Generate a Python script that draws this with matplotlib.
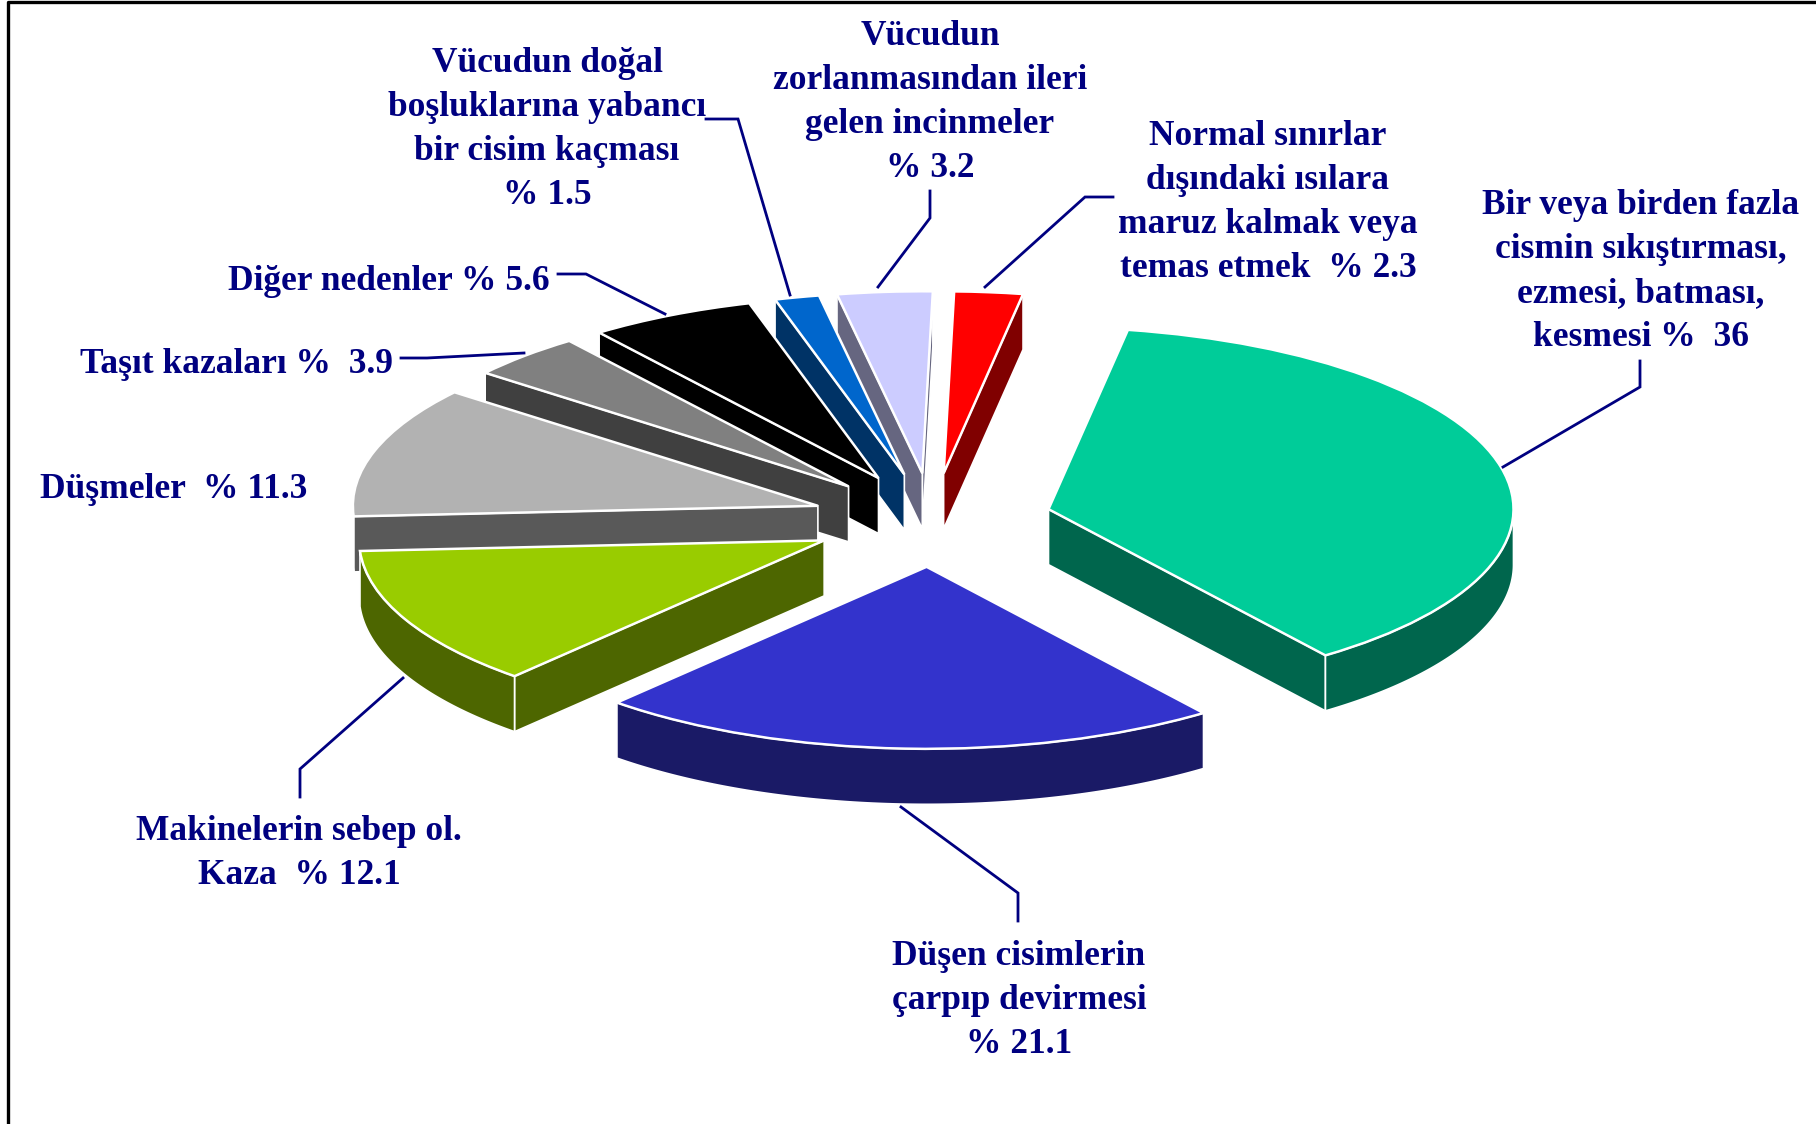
import numpy as np
import matplotlib
matplotlib.use("Agg")
import matplotlib.pyplot as plt
from matplotlib.patches import Polygon

# pay dilimleri, saat yonunde, tepeden baslayarak
values = [2.3, 36, 21.1, 12.1, 11.3, 3.9, 5.6, 1.5, 3.2]
top_colors = ['#FF0000', '#00CC99', '#3333CC', '#99CC00', '#B2B2B2',
              '#808080', '#000000', '#0066CC', '#CCCCFF']
side_colors = ['#800000', '#00664D', '#1A1A66', '#4D6600', '#595959',
               '#404040', '#000000', '#003366', '#666680']
labels = ['Normal sınırlar\ndışındaki ısılara\nmaruz kalmak veya\ntemas etmek  % 2.3',
          'Bir veya birden fazla\ncismin sıkıştırması,\nezmesi, batması,\nkesmesi %  36',
          'Düşen cisimlerin\nçarpıp devirmesi\n% 21.1',
          'Makinelerin sebep ol.\nKaza  % 12.1',
          'Düşmeler  % 11.3',
          'Taşıt kazaları %  3.9',
          'Diğer nedenler % 5.6',
          'Vücudun doğal\nboşluklarına yabancı\nbir cisim kaçması\n% 1.5',
          'Vücudun\nzorlanmasından ileri\ngelen incinmeler\n% 3.2']

# yerlesim (piksel)
W, H = 1816, 1124
CX, CY, RX, RY = 932, 520, 465, 182
DEPTH = 55.5 / RY
NAVY = '#000080'

label_pos = [(1268, 200), (1641, 269), (1019, 998), (299, 851), (174, 487),
             (236, 362), (389, 279), (547, 127), (930, 100)]
leaders = [[(1113, 197), (1085, 197), (985, 287)],
           [(1640, 361), (1640, 387), (1503, 467)],
           [(1018, 921), (1018, 893), (901, 807)],
           [(300, 797), (300, 769), (403, 678)],
           None,
           [(401, 358), (427, 358), (524, 353)],
           [(558, 274), (586, 274), (665, 314)],
           [(706, 119), (738, 119), (790, 295)],
           [(930, 191), (930, 218), (878, 287)]]

fig = plt.figure(figsize=(W / 100, H / 100), dpi=100, facecolor='white')
ax = fig.add_axes([0, 0, 1, 1])
wedges, _ = ax.pie(values, explode=[0.2575] * len(values), startangle=88.7,
                   counterclock=False, colors=top_colors, radius=1,
                   wedgeprops=dict(edgecolor='white', linewidth=1.8))
ax.set_aspect('auto')
ax.set_xlim((0 - CX) / RX, (W - CX) / RX)
ax.set_ylim((CY - H) / RY, CY / RY)


def add_side(pts, color, z):
    pts = np.array(pts)
    low = pts[::-1] - [0, DEPTH]
    ax.add_patch(Polygon(np.vstack([pts, low]), closed=True, facecolor=color,
                         edgecolor='white', linewidth=1.2, zorder=z))


# arkadan one dogru ciz
order = sorted(range(len(wedges)), key=lambda i: -wedges[i].center[1])
for rank, i in enumerate(order):
    w = wedges[i]
    z = 2 * rank + 2
    cx, cy = w.center
    th = np.radians(np.linspace(w.theta1, w.theta2, 200))
    arc = np.column_stack([cx + np.cos(th), cy + np.sin(th)])
    apex = np.array([cx, cy])
    if arc[0, 0] > cx:
        add_side([apex, arc[0]], side_colors[i], z)
    if arc[-1, 0] < cx:
        add_side([arc[-1], apex], side_colors[i], z)
    front = arc[np.sin(th) < 0]
    if len(front) > 1:
        add_side(front, side_colors[i], z)
    w.set_zorder(z + 1)

# etiketler ve cizgiler piksel eksende
over = fig.add_axes([0, 0, 1, 1], facecolor='none', zorder=100)
over.set_xlim(0, W)
over.set_ylim(H, 0)
over.axis('off')

for text, (x, y), line in zip(labels, label_pos, leaders):
    rows = text.split('\n')
    for k, row in enumerate(rows):
        over.text(x, y + (k - (len(rows) - 1) / 2) * 44 + 11, row, ha='center',
                  va='baseline', color=NAVY, fontsize=25.5, fontweight='bold',
                  family='Liberation Serif')
    if line:
        xs, ys = zip(*line)
        over.plot(xs, ys, color=NAVY, lw=2.0, solid_joinstyle='miter')

# cerceve: ust ve sol
over.plot([8, 8, W], [H, 2, 2], color='black', lw=2.4, clip_on=False)

fig.savefig('out.png', dpi=100)
